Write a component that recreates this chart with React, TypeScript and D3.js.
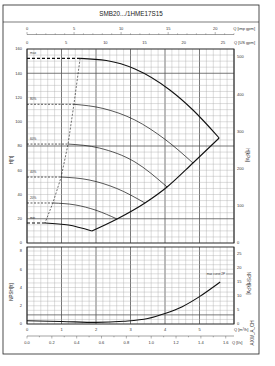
import React from 'react'
import { scaleLinear, line, curveMonotoneX, range } from 'd3'

// curves: [Q m3/h, H ft]
const speedNames = ['max', '80%', '60%', '40%', '20%', 'min']
const shutoffH = [152.3, 114.4, 81.6, 54.4, 33, 16.5]
const minFlowQ = [1.54, 1.36, 1.19, 0.99, 0.75, 0.52]
const curveMax = [[1.54, 152.3], [2.3, 150.5], [3.13, 143.5], [4.14, 126.2], [4.81, 109.7], [5.57, 86.6]]
const curve80 = [[1.36, 114.4], [2.2, 111], [3.13, 101.4], [4.0, 85.5], [4.81, 66]]
const curve60 = [[1.19, 81.6], [2.1, 78.3], [3.13, 66.8], [4.06, 46.2]]
const curve40 = [[0.99, 54.4], [1.8, 52], [2.6, 45], [3.42, 33]]
const curve20 = [[0.75, 33], [1.4, 31.4], [2.0, 27], [2.61, 19.8]]
const curveMin = [[0.52, 16.5], [1.2, 14.8], [1.88, 9.9]]
const speedCurves = [curveMax, curve80, curve60, curve40, curve20, curveMin]
const endLine = [[1.88, 9.9], [2.61, 19.8], [3.42, 33], [4.06, 46.2], [4.81, 66], [5.57, 86.6]]

const npsh = [[0, 0.35], [1, 0.28], [2, 0.18], [2.8, 0.3], [3.5, 0.6], [4.0, 1.15], [4.5, 1.9], [5.0, 3.0], [5.6, 4.6]]

const hFtTicks = [0, 20, 40, 60, 80, 100, 120, 140, 160]
const hKpaTicks = [0, 100, 200, 300, 400, 500]
const npshFtTicks = [0, 2, 4, 6, 8]
const npshKpaTicks = [0, 5, 10, 15, 20, 25]
const qM3hTicks = [0, 1, 2, 3, 4, 5]
const qLsTicks = [0, 0.2, 0.4, 0.6, 0.8, 1.0, 1.2, 1.4, 1.6]
const qImpTicks = [0, 5, 10, 15, 20]
const qUsTicks = [0, 5, 10, 15, 20, 25]

export default function App() {
  const W = 275, H = 366
  const left = 27, right = 234
  const x = scaleLinear().domain([0, 6]).range([left, right])
  const xImp = scaleLinear().domain([0, 6 * 3.666]).range([left, right])
  const xUs = scaleLinear().domain([0, 6 * 4.403]).range([left, right])
  const xLs = scaleLinear().domain([0, 6 / 3.6]).range([left, right])
  const y = scaleLinear().domain([0, 160]).range([243, 49])
  const yKpa = scaleLinear().domain([0, 500]).range([243, 57])
  const y2 = scaleLinear().domain([0, 8]).range([324, 251])
  const y2Kpa = scaleLinear().domain([0, 25]).range([324, 254])
  const y2Top = 247

  const ln = line<number[]>().x(d => x(d[0])).y(d => y(d[1])).curve(curveMonotoneX)
  const lnStraight = line<number[]>().x(d => x(d[0])).y(d => y(d[1]))
  const ln2 = line<number[]>().x(d => x(d[0])).y(d => y2(d[1])).curve(curveMonotoneX)

  const font = 'Liberation Sans, Arial, sans-serif'
  const tc = '#333'
  const fs = 4

  const vGrid = range(0, 6.001, 0.2)
  const hGrid = range(0, 160.001, 5)
  const hGrid2 = range(0, 8.001, 0.5)
  const thickH = [20, 80, 140]

  return (
    <svg width={W} height={H} style={{ position: 'absolute', left: 0, top: 0, background: '#fff' }} fontFamily={font}>
      {/* frame */}
      <rect x={3} y={5} width={256} height={349} fill="none" stroke="#222" strokeWidth={0.8} />
      <line x1={3} x2={259} y1={22} y2={22} stroke="#222" strokeWidth={0.6} />
      <text x={131} y={16} fontSize={6.3} textAnchor="middle" fill="#222">SMB20.../1HME17S15</text>

      {/* top axes */}
      <line x1={left} x2={right} y1={34.5} y2={34.5} stroke="#444" strokeWidth={0.5} />
      {range(0, 22.01, 1).map(v => (
        <line key={'it' + v} x1={xImp(v)} x2={xImp(v)} y1={v % 5 === 0 ? 32 : 33.3} y2={34.5} stroke="#444" strokeWidth={0.4} />
      ))}
      {qImpTicks.map(v => (
        <text key={'i' + v} x={xImp(v)} y={29.5} fontSize={fs} textAnchor="middle" fill={tc}>{v}</text>
      ))}
      <text x={255} y={29.5} fontSize={fs} textAnchor="end" fill={tc}>Q [imp gpm]</text>
      {qUsTicks.map(v => (
        <text key={'u' + v} x={xUs(v)} y={43.5} fontSize={fs} textAnchor="middle" fill={tc}>{v}</text>
      ))}
      <text x={255} y={43.5} fontSize={fs} textAnchor="end" fill={tc}>Q [US gpm]</text>

      {/* main grid */}
      {vGrid.map((v, i) => (
        <line key={'vg' + i} x1={x(v)} x2={x(v)} y1={y(160)} y2={y(0)} stroke={i % 5 === 0 ? '#555' : '#aaa'} strokeWidth={i % 5 === 0 ? 0.8 : 0.4} />
      ))}
      {hGrid.map((v, i) => (
        <line key={'hg' + i} x1={left} x2={right} y1={y(v)} y2={y(v)} stroke={thickH.includes(v) ? '#555' : '#aaa'} strokeWidth={thickH.includes(v) ? 0.8 : 0.4} />
      ))}
      <rect x={left} y={y(160)} width={right - left} height={y(0) - y(160)} fill="none" stroke="#222" strokeWidth={0.9} />

      {hFtTicks.map(v => (
        <text key={'hf' + v} x={22} y={y(v) + 1.4} fontSize={fs} textAnchor="end" fill={tc}>{v}</text>
      ))}
      {hKpaTicks.map(v => (
        <text key={'hk' + v} x={237} y={yKpa(v) + 1.4} fontSize={fs} fill={tc}>{v}</text>
      ))}
      <text transform={`translate(13,160) rotate(-90)`} fontSize={4.5} textAnchor="middle" fill={tc}>H[ft]</text>
      <text transform={`translate(246,155) rotate(90)`} fontSize={4.5} textAnchor="middle" fill={tc}>H[kPa]</text>

      {/* curves */}
      {speedCurves.map((c, i) => {
        const thick = i === 0 || i === speedCurves.length - 1
        return (
          <g key={'c' + i}>
            <path d={lnStraight([[0, shutoffH[i]], [minFlowQ[i], shutoffH[i]]]) || ''} fill="none" stroke="#111" strokeWidth={thick ? 1.1 : 0.7} strokeDasharray={thick ? '3,2' : '2,1.5'} />
            <path d={ln(c) || ''} fill="none" stroke="#111" strokeWidth={thick ? 1.1 : 0.7} />
            <text x={30} y={y(shutoffH[i]) - 4} fontSize={3.2} fill={tc}>{speedNames[i]}</text>
          </g>
        )
      })}
      <path d={lnStraight(minFlowQ.map((q, i) => [q, shutoffH[i]])) || ''} fill="none" stroke="#111" strokeWidth={0.6} strokeDasharray="2,1.5" />
      <path d={ln(endLine) || ''} fill="none" stroke="#111" strokeWidth={1.1} />

      {/* NPSH plot */}
      {vGrid.map((v, i) => (
        <line key={'vg2' + i} x1={x(v)} x2={x(v)} y1={y2Top} y2={y2(0)} stroke={i % 5 === 0 ? '#555' : '#aaa'} strokeWidth={i % 5 === 0 ? 0.8 : 0.4} />
      ))}
      {hGrid2.map((v, i) => (
        <line key={'hg2' + i} x1={left} x2={right} y1={y2(v)} y2={y2(v)} stroke={v === 1 ? '#555' : '#aaa'} strokeWidth={v === 1 ? 0.8 : 0.4} />
      ))}
      <rect x={left} y={y2Top} width={right - left} height={y2(0) - y2Top} fill="none" stroke="#222" strokeWidth={0.9} />
      <path d={ln2(npsh) || ''} fill="none" stroke="#111" strokeWidth={1.1} />
      <text x={225} y={275} fontSize={3} textAnchor="end" fill={tc}>max curve 2P</text>
      <line x1={226} x2={233} y1={274} y2={274} stroke="#333" strokeWidth={0.4} />

      {npshFtTicks.map(v => (
        <text key={'nf' + v} x={22} y={y2(v) + 1.4} fontSize={fs} textAnchor="end" fill={tc}>{v}</text>
      ))}
      {npshKpaTicks.map(v => (
        <text key={'nk' + v} x={237} y={y2Kpa(v) + 1.4} fontSize={fs} fill={tc}>{v}</text>
      ))}
      <text transform={`translate(13,292) rotate(-90)`} fontSize={4.5} textAnchor="middle" fill={tc}>NPSH[ft]</text>
      <text transform={`translate(247,283) rotate(90)`} fontSize={4.5} textAnchor="middle" fill={tc}>NPSH[kPa]</text>
      <text transform={`translate(254,333) rotate(-90)`} fontSize={4.5} textAnchor="middle" fill={tc}>AXW_A_CH</text>

      {/* bottom axes */}
      {qM3hTicks.map(v => (
        <text key={'m' + v} x={x(v)} y={331} fontSize={fs} textAnchor="middle" fill={tc}>{v}</text>
      ))}
      <text x={234} y={331} fontSize={fs} fill={tc}>Q [m³/h]</text>
      <line x1={left} x2={right} y1={336} y2={336} stroke="#444" strokeWidth={0.5} />
      {range(0, 1.67, 0.1).map((v, i) => (
        <line key={'lt' + i} x1={xLs(v)} x2={xLs(v)} y1={336} y2={i % 2 === 0 ? 338.5 : 337.3} stroke="#444" strokeWidth={0.4} />
      ))}
      {qLsTicks.map(v => (
        <text key={'l' + v} x={xLs(v)} y={344} fontSize={fs} textAnchor="middle" fill={tc}>{v.toFixed(1)}</text>
      ))}
      <text x={232} y={344} fontSize={fs} fill={tc}>Q [l/s]</text>
    </svg>
  )
}
